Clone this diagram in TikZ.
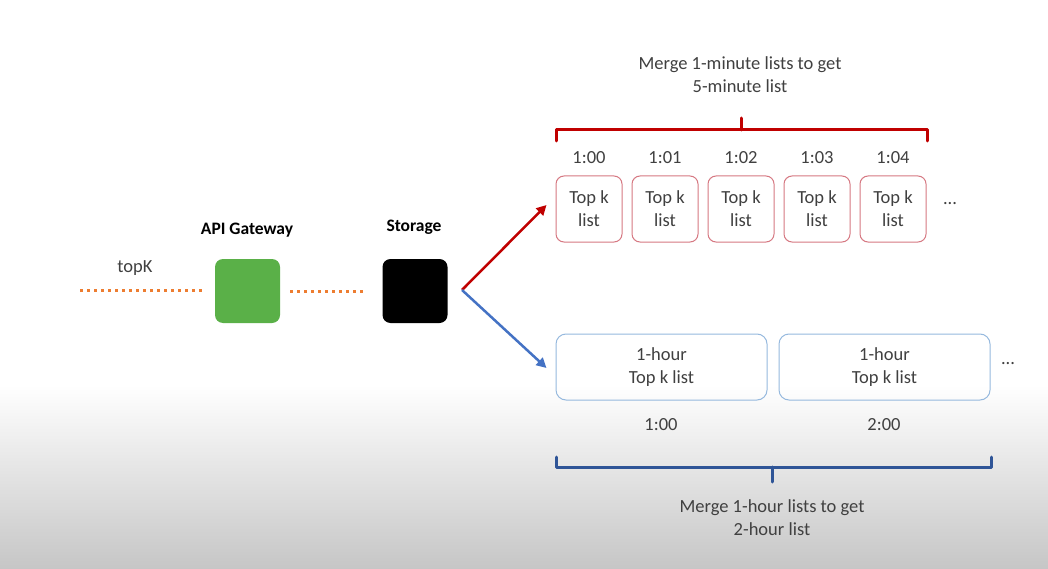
\documentclass[tikz,border=0pt]{standalone}
\usepackage{fontspec}
\setmainfont{Carlito}
\usetikzlibrary{arrows.meta}
\definecolor{dred}{RGB}{192,0,0}
\definecolor{lred}{RGB}{214,120,130}
\definecolor{dblue}{RGB}{47,85,151}
\definecolor{mblue}{RGB}{68,114,196}
\definecolor{lblue}{RGB}{150,185,222}
\definecolor{dorange}{RGB}{237,125,49}
\definecolor{gwgreen}{RGB}{90,176,72}
\definecolor{txt}{RGB}{64,64,64}
\tikzset{
  lbl/.style={font=\fontsize{18.5}{23}\selectfont, text=txt, align=center, inner sep=0pt},
  hdr/.style={font=\fontsize{17.5}{21}\selectfont\bfseries, text=black, inner sep=0pt},
  svc/.style={minimum width=65pt, minimum height=64pt, rounded corners=8pt, inner sep=0pt},
  minbox/.style={draw=lred, line width=1pt, rounded corners=8pt, minimum width=66pt, minimum height=66pt, lbl},
  hourbox/.style={draw=lblue, line width=1pt, rounded corners=10pt, minimum width=211pt, minimum height=66pt, lbl},
  dotline/.style={dorange, line width=3pt, dash pattern=on 3pt off 4pt},
  redbr/.style={dred, line width=3pt, line cap=round, line join=round},
  bluebr/.style={dblue, line width=3pt, line cap=round, line join=round},
}
\begin{document}
\begin{tikzpicture}[x=1pt,y=-1pt]
\useasboundingbox (0,0) rectangle (1048,569);
\fill[white] (0,0) rectangle (1048,386);
\shade[top color=white, bottom color={rgb,255:red,198;green,198;blue,198}] (0,385) rectangle (1048,569);

% left part
\node[lbl] (topk) at (135,268) {topK};
\coordinate (lstart) at (80,290);
\node[svc, fill=gwgreen] (gw) at (247.5,291) {};
\node[hdr] (gwl) at (247,230) {API Gateway};
\node[svc, fill=black] (st) at (415,291) {};
\node[hdr] (stl) at (414,227) {Storage};
\draw[dotline] (lstart) -- ([xshift=-12pt]gw.west |- lstart);
\draw[dotline] ([xshift=10pt]gw.east) -- ([xshift=-16pt]st.west);

% 1-minute boxes
\foreach \i/\t in {0/1:00,1/1:01,2/1:02,3/1:03,4/1:04}{
  \node[minbox] (m\i) at ({589+76*\i},209) {Top k\\list};
  \node[lbl] (mt\i) at ({589+76*\i},158) {\t};
}
\node[lbl] (mdots) at (950,204) {...};

% hour boxes
\node[hourbox] (h0) at (661.5,367) {1-hour\\Top k list};
\node[hourbox] (h1) at (884.5,367) {1-hour\\Top k list};
\node[lbl] (ht0) at (661,425) {1:00};
\node[lbl] (ht1) at (884,425) {2:00};
\node[lbl] (hdots) at (1008,364) {...};

% arrows
\coordinate (fork) at (462,290);
\draw[dred, line width=2.5pt, -{Triangle[length=10pt,width=10pt]}] (fork) -- ([xshift=-9pt,yshift=4pt]m0.west);
\draw[mblue, line width=2.5pt, -{Triangle[length=10pt,width=10pt]}] (fork) -- ([xshift=-9pt,yshift=-1pt]h0.west);

% red bracket
\coordinate (rb) at (741,118);
\draw[redbr] (556,141) -- (556,130) -- (927,130) -- (927,141);
\draw[redbr] (rb) -- (741,130);
\node[lbl] (rtext) at (740,75) {Merge 1-minute lists to get\\5-minute list};

% blue bracket
\coordinate (bb) at (772,482);
\draw[bluebr] (556,457) -- (556,467) -- (991,467) -- (991,457);
\draw[bluebr] (bb) -- (772,467);
\node[lbl] (btext) at (772,518) {Merge 1-hour lists to get\\2-hour list};
\end{tikzpicture}
\end{document}
